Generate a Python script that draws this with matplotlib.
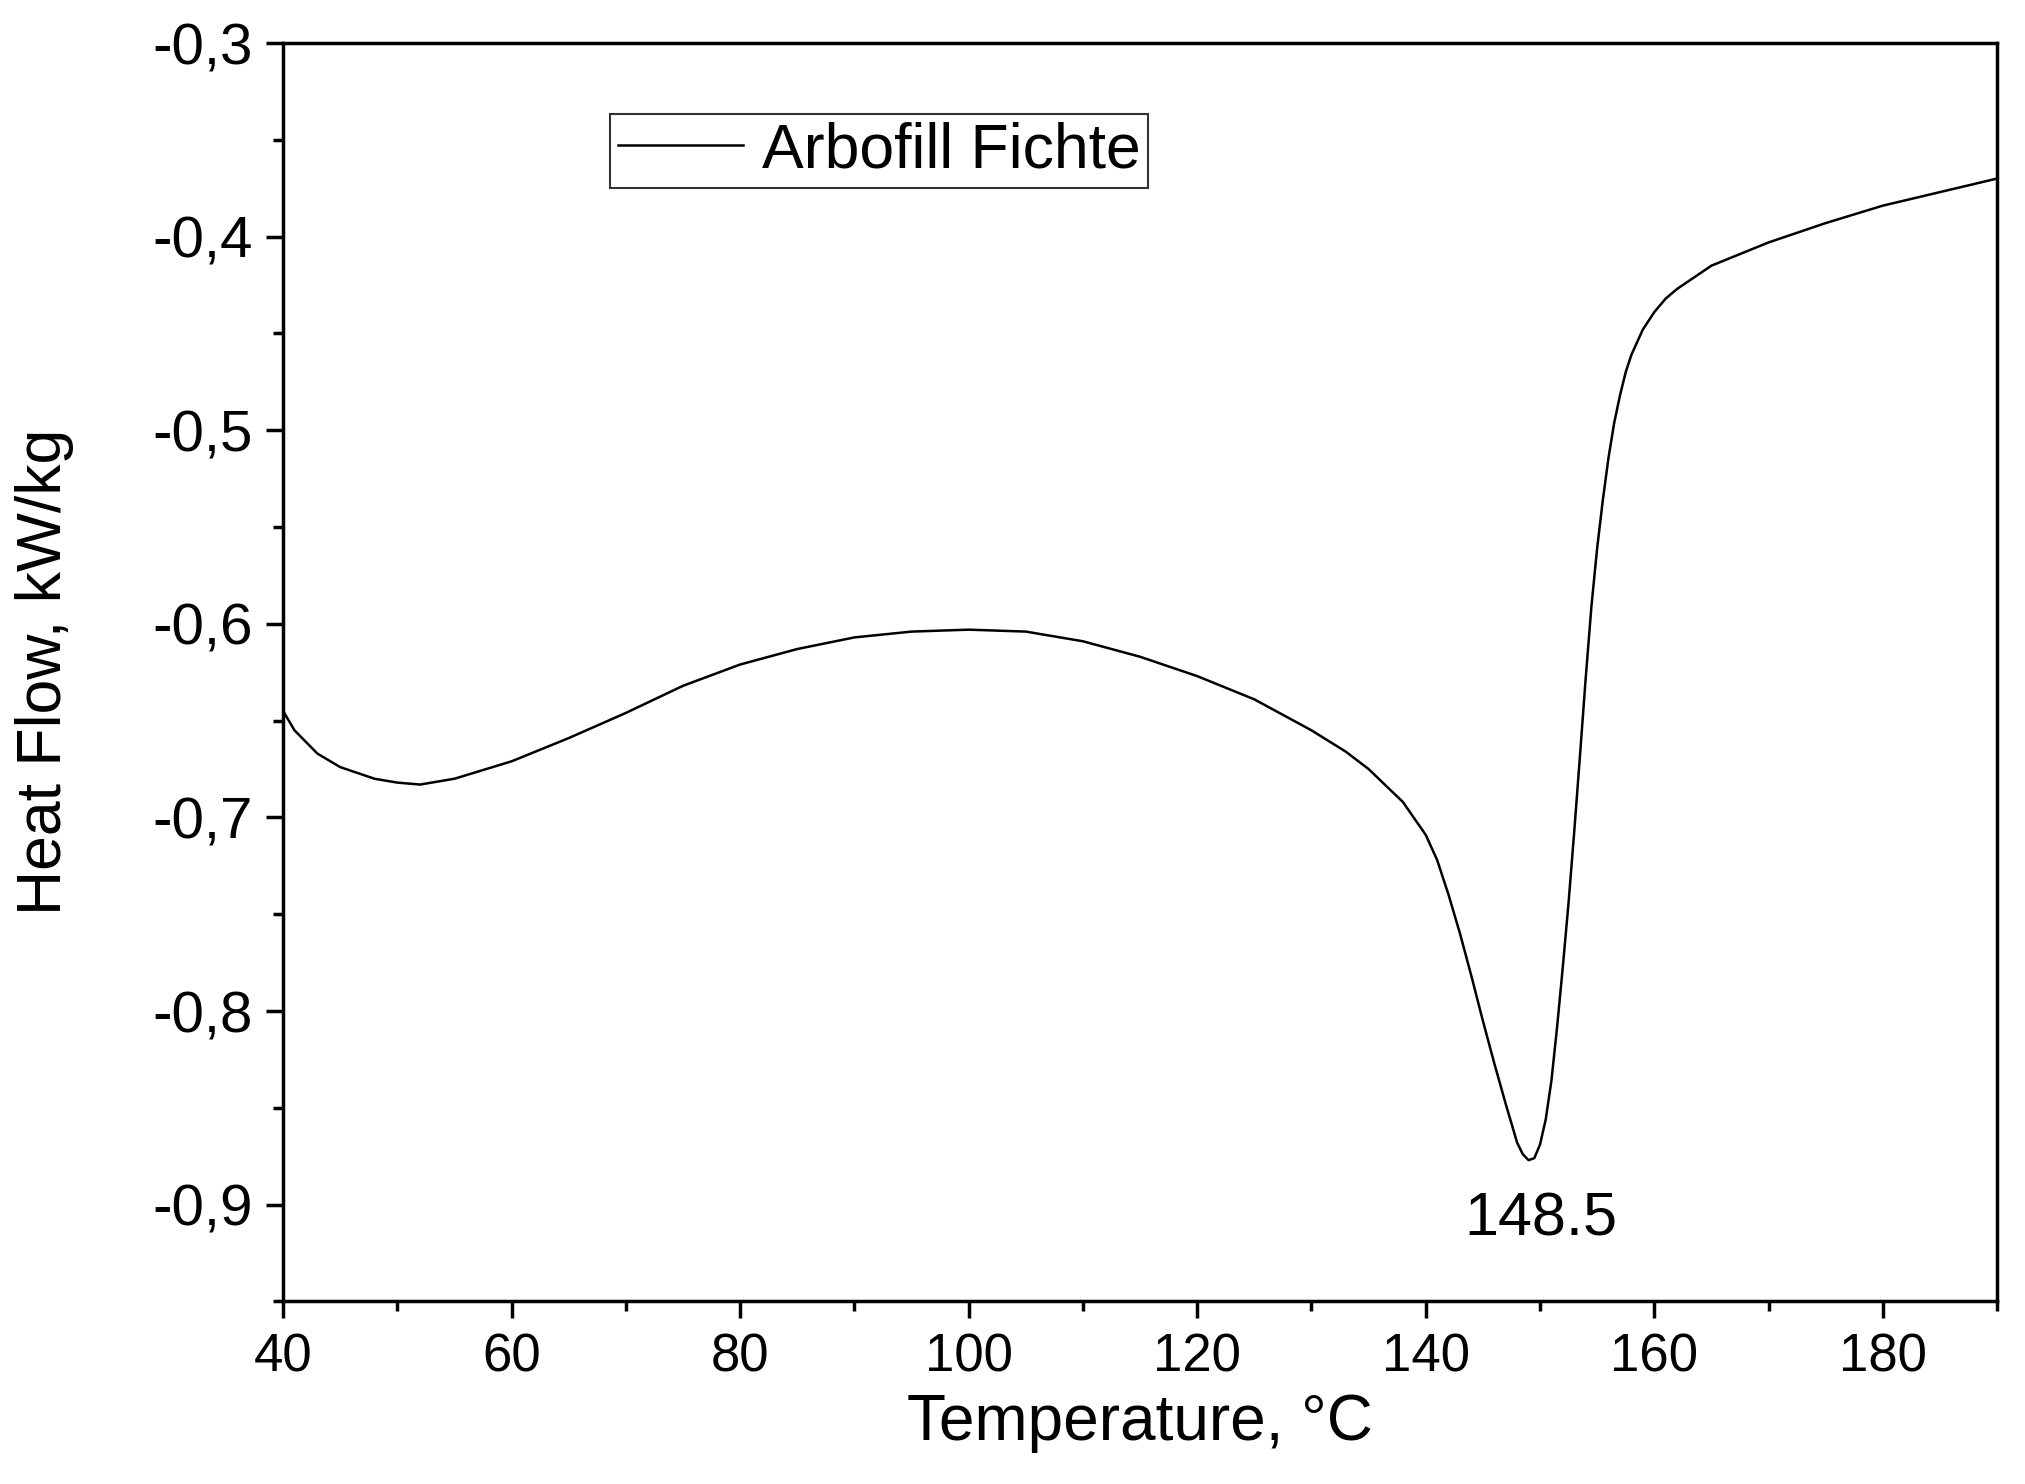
import matplotlib
matplotlib.use("Agg")
import matplotlib.pyplot as plt
from matplotlib.ticker import MultipleLocator, FuncFormatter

plt.rcParams['font.family'] = ['Liberation Sans', 'DejaVu Sans']

# DSC curve
temperature = [40, 41, 43, 45, 48, 50, 52, 55, 60, 65, 70, 75, 80, 85, 90, 95,
               100, 105, 110, 115, 120, 125, 130, 133, 135, 138, 140, 141, 142,
               143, 144, 145, 146, 147, 147.5, 148, 148.5, 149, 149.5, 150,
               150.5, 151, 151.5, 152, 152.5, 153, 153.5, 154, 154.5, 155,
               155.5, 156, 156.5, 157, 157.5, 158, 159, 160, 161, 162, 163,
               165, 170, 175, 180, 185, 190]
heat_flow = [-0.645, -0.655, -0.667, -0.674, -0.680, -0.682, -0.683, -0.680,
             -0.671, -0.659, -0.646, -0.632, -0.621, -0.613, -0.607, -0.604,
             -0.603, -0.604, -0.609, -0.617, -0.627, -0.639, -0.655, -0.666,
             -0.675, -0.692, -0.709, -0.722, -0.740, -0.760, -0.782, -0.805,
             -0.827, -0.848, -0.858, -0.868, -0.874, -0.877, -0.876, -0.869,
             -0.856, -0.836, -0.808, -0.777, -0.744, -0.707, -0.668, -0.628,
             -0.591, -0.561, -0.536, -0.514, -0.496, -0.482, -0.470, -0.461,
             -0.448, -0.439, -0.432, -0.427, -0.423, -0.415, -0.403, -0.393,
             -0.384, -0.377, -0.370]
series_name = "Arbofill Fichte"
peak_label = "148.5"

fig = plt.figure(figsize=(20.25, 14.84), dpi=100)
ax = fig.add_axes([0.1398, 0.123, 0.8464, 0.848])

ax.plot(temperature, heat_flow, color='black', lw=1.8, label=series_name)
ax.text(150.1, -0.908, peak_label, ha='center', va='center', fontsize=44)

ax.set_xlim(40, 190)
ax.set_ylim(-0.95, -0.3)
ax.xaxis.set_major_locator(MultipleLocator(20))
ax.xaxis.set_minor_locator(MultipleLocator(10))
ax.yaxis.set_major_locator(MultipleLocator(0.1))
ax.yaxis.set_minor_locator(MultipleLocator(0.05))
ax.yaxis.set_major_formatter(FuncFormatter(lambda v, p: f"{v:.1f}".replace('.', ',')))

for s in ax.spines.values():
    s.set_linewidth(2.5)
ax.tick_params(which='both', direction='out', top=False, right=False, width=2.5)
ax.tick_params(which='major', length=12, pad=10)
ax.tick_params(which='minor', length=7)
ax.tick_params(axis='x', labelsize=38)
ax.tick_params(axis='y', labelsize=42)

ax.set_xlabel("Temperature, °C", fontsize=46, labelpad=8)
ax.set_ylabel("Heat Flow, kW/kg", fontsize=45)
ax.yaxis.set_label_coords(-0.122, 0.5)

leg = ax.legend(loc='upper left', bbox_to_anchor=(0.191, 0.944), fontsize=45,
                frameon=True, fancybox=False, handlelength=2.0,
                borderpad=0.12, handletextpad=0.3, borderaxespad=0)
leg.get_frame().set_edgecolor('black')
leg.get_frame().set_linewidth(1.5)

fig.savefig("out.png", dpi=100)
